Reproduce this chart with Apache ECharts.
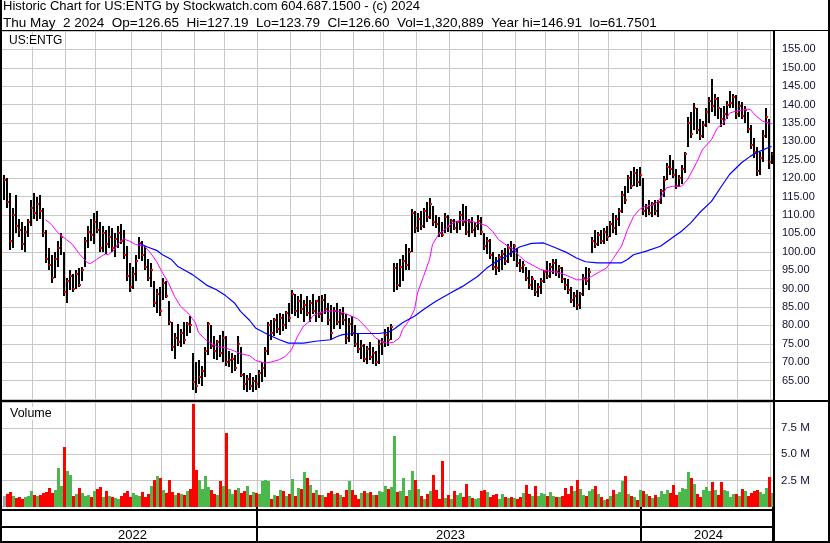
<!DOCTYPE html>
<html>
<head>
<meta charset="utf-8">
<title>US:ENTG historic chart</title>
<script src="https://cdn.jsdelivr.net/npm/echarts@6.0.0/dist/echarts.min.js"></script>
<style>
  html, body { margin: 0; padding: 0; background: #fff; }
  #chart { width: 830px; height: 543px; }
</style>
</head>
<body>
<div id="chart"></div>
<script>
// each bar slot is roughly two trading days; month -> first slot of that month
const monthStarts = [
  ['2022-05', 0], ['2022-06', 10], ['2022-07', 21], ['2022-08', 31], ['2022-09', 43],
  ['2022-10', 53], ['2022-11', 64], ['2022-12', 74], ['2023-01', 85], ['2023-02', 96],
  ['2023-03', 106], ['2023-04', 117], ['2023-05', 127], ['2023-06', 138], ['2023-07', 149],
  ['2023-08', 160], ['2023-09', 171], ['2023-10', 181], ['2023-11', 192], ['2023-12', 202],
  ['2024-01', 213], ['2024-02', 224], ['2024-03', 235], ['2024-04', 245], ['2024-05', 256]
]

const highs = [
  121, 120, 116, 112, 115.5, 109, 108, 107, 109, 114, 116, 115, 115.5, 112, 106, 101, 99, 100, 103, 105,
  100, 93, 95, 94, 95, 95.5, 96, 104, 107, 109, 110.5, 111, 108, 107, 106, 107, 106.5, 105, 107, 107.5,
  106, 101.5, 97, 96, 99, 104, 103, 101.5, 98, 97, 92, 90, 90.5, 93, 92, 86.5, 81, 78, 80.5, 79,
  81, 81, 82.5, 72.5, 70, 70.5, 69, 74, 81, 80, 77, 76, 77.5, 78.5, 77, 73, 72.5, 72, 77, 74,
  67, 66.5, 67, 66, 66.5, 68, 70, 74, 81, 81.5, 82, 83, 83.5, 83, 84, 86, 89.7, 88.5, 88, 88.5,
  87, 88, 87, 88.5, 87, 88, 88.3, 88.5, 86, 85.5, 85, 86, 84.5, 85, 83, 82, 82.5, 80, 78, 76,
  75, 74.5, 75.5, 74, 73, 76, 76.5, 79, 79.7, 80.5, 97, 97, 98, 99, 102, 101, 111.5, 111, 110.5, 111,
  112, 113.5, 114.7, 112.5, 110, 109.5, 108, 110.6, 110, 109, 109, 108.5, 111, 113, 112.5, 109, 109.5, 108, 110, 109.5,
  105, 104, 103.5, 100, 98.5, 99.5, 100.6, 101, 102, 102.8, 102, 101, 98, 97.5, 96, 95, 93.5, 92.4, 91.5, 93,
  95, 97.5, 97, 98, 98, 96.5, 96, 93, 92.5, 90.5, 89, 89.5, 89, 94, 96, 95.5, 104, 106, 105.5, 106,
  106.5, 107, 108.5, 110.6, 110, 112, 116.5, 118, 121, 122, 123, 122.5, 123, 120, 113, 114, 113.5, 114, 114, 117,
  120.5, 124, 126.4, 125, 122.4, 121, 123.5, 127, 136.7, 138, 140.5, 139, 136, 135.5, 139, 142, 146.91, 143, 142, 139,
  139.5, 141, 143.6, 143, 142.5, 141, 140.6, 139.5, 138, 134.5, 131, 128.6, 127, 133, 139.2, 136, 127.19
]
const lows = [
  114, 112, 100.5, 101, 105, 104, 100.5, 100, 104, 107, 109, 108.5, 109, 104, 97, 95, 91.5, 93, 96, 99,
  88, 86, 89.5, 89, 90, 90.5, 92, 96, 101, 103, 102, 105, 100, 100, 99.5, 101, 100, 98.5, 101, 102,
  98, 92, 89, 90, 92, 98, 97.5, 95, 92, 90.5, 85, 83.5, 82.5, 87, 87.5, 80, 73, 70.8, 74.5, 74,
  75, 77, 78, 62.5, 61.75, 64, 63.5, 66, 72, 73.5, 71, 70.5, 71.5, 70, 69, 68.8, 67, 67.5, 69.5, 66,
  62.5, 62, 62.5, 62, 62.5, 63, 64.5, 66, 72, 76, 77, 78, 77.5, 78.5, 79, 81, 83, 82.5, 82, 83,
  81, 82.5, 80.8, 83, 81, 82, 81, 83, 80, 76, 79, 80, 79, 80, 75, 75.5, 77, 74, 72.5, 71,
  70, 69.5, 70.5, 69.5, 68.9, 69.5, 72, 74, 74.5, 76, 89, 89.5, 90.5, 92, 95, 95, 100, 105, 105.5, 106,
  106.5, 108, 109, 107, 106.5, 104, 104, 105, 105.5, 105, 106, 105, 106, 107, 104.5, 104, 105, 104, 106, 104.5,
  100.5, 99.5, 98, 95, 93.8, 94.5, 95, 96.5, 97, 98.5, 97.5, 96, 94.5, 94.3, 92, 90, 89.7, 88, 87.8, 88.5,
  91.5, 92.5, 93, 94, 93.5, 93, 91.5, 89.5, 88.5, 86, 85, 84.3, 84.5, 88, 91, 89.7, 99.7, 101, 101.5, 102,
  102, 103, 104, 105, 104.5, 107, 110.5, 113, 116, 117, 118, 117.5, 118, 110, 109.5, 110, 109.5, 110, 109.5, 113,
  115, 119.5, 121, 120, 117, 117.5, 118.5, 121.5, 128.5, 131, 133, 132, 130.5, 131, 134, 135, 138, 137, 136, 134,
  134.5, 136, 139, 139, 136, 136.5, 136, 135, 132.4, 128, 125.5, 120.7, 121, 124.5, 131, 122.4, 123.79
]
const closes = [
  119.5, 113.5, 103, 110, 107, 106, 102, 105.5, 108, 112, 110.5, 113, 111, 105, 98, 96.5, 93, 98, 101, 104,
  89, 92, 93.5, 90, 94, 91, 95, 103, 105.5, 104.5, 108, 106, 101, 105, 102, 104, 101, 103.5, 105, 103,
  99, 93.5, 90.5, 94, 97.5, 102.5, 99, 96, 93, 95, 86, 88.5, 84, 91.5, 88, 81, 74, 76.5, 75.5, 78,
  76, 80.5, 80, 64.5, 63.5, 66, 67.5, 73, 80.5, 74.5, 73, 75.5, 72.5, 76.5, 70, 70.5, 71, 68.5, 75, 66.5,
  64, 65.5, 63.5, 65, 64, 67, 68.5, 73, 80, 78, 81.5, 79, 82, 80, 83.5, 82, 88.5, 84, 86.5, 84.5,
  85.5, 83.5, 86, 84, 86.5, 83, 87, 84.5, 81.5, 78, 84, 81, 83, 81.5, 76.5, 80.5, 78, 75, 73.5, 74.5,
  71, 73.5, 71.5, 72.5, 70, 75, 75.5, 77.5, 76, 79.5, 95.5, 91, 96, 97.5, 96.5, 100, 110.5, 106.5, 109, 107,
  111, 109.5, 113, 108, 107.5, 105, 104.5, 109.5, 107, 108.5, 106.5, 108, 110, 108, 105.5, 108, 106, 107, 108.5, 105.5,
  101.5, 103, 99, 96, 95.5, 98.5, 99.5, 97.5, 101, 100, 101.5, 97, 95.5, 96.5, 93, 91, 92.5, 89, 90.5, 92,
  94.5, 93.5, 96, 97, 94.5, 95.5, 92.5, 91, 89.5, 87, 88, 85.5, 88.5, 93, 92, 94.5, 103, 102, 104.5, 103,
  105.5, 104, 107.5, 106.5, 109, 111, 115.5, 114, 120, 118, 121.5, 119, 121, 111, 112, 110.5, 113, 111, 113.5, 116.5,
  119.5, 123, 122.5, 121, 118, 120, 122.5, 126.5, 135, 132, 139, 133, 131.5, 134.5, 138, 141, 139.5, 141.5, 139, 136,
  137.5, 140, 140.5, 142, 137.5, 139.5, 137, 138.5, 133.5, 129, 127, 122, 125.5, 131.5, 136.5, 124.5, 126.6
]
// volume in millions of shares
const volumes = [
  1.0, 1.2, 1.4, 1.0, 0.8, 0.9, 0.7, 0.9, 1.0, 1.5, 1.1, 1.0, 1.1, 1.3, 1.4, 1.8, 1.3, 1.6, 3.7, 2.0,
  5.7, 3.4, 3.0, 1.0, 1.2, 1.8, 1.3, 1.0, 1.1, 0.9, 1.5, 1.7, 1.9, 0.9, 1.5, 1.0, 0.9, 0.8, 0.7, 1.0,
  1.3, 1.5, 0.9, 1.3, 1.1, 1.0, 1.4, 0.9, 1.2, 2.0, 2.5, 2.9, 2.7, 1.6, 1.3, 2.5, 1.4, 1.1, 1.3, 1.2,
  1.1, 1.5, 1.7, 9.8, 3.5, 2.5, 1.7, 2.9, 1.9, 1.6, 1.2, 1.1, 2.4, 2.0, 7.0, 1.7, 1.2, 1.6, 1.8, 1.3,
  1.5, 2.0, 1.1, 1.4, 1.3, 1.2, 2.4, 2.5, 2.4, 0.7, 1.1, 1.0, 1.6, 1.5, 1.0, 1.2, 2.6, 1.0, 1.8, 1.7,
  3.3, 2.7, 2.1, 1.3, 1.6, 1.1, 1.1, 0.9, 1.3, 1.5, 1.2, 1.3, 1.1, 0.9, 1.6, 2.4, 1.6, 1.1, 0.7, 1.3,
  1.5, 1.3, 1.4, 1.1, 1.1, 1.5, 1.4, 2.0, 1.7, 1.9, 6.75, 1.4, 1.5, 2.7, 1.0, 1.6, 3.4, 2.5, 1.7, 1.0,
  0.7, 1.2, 1.5, 3.0, 1.6, 0.7, 4.4, 0.8, 1.1, 0.7, 1.5, 1.1, 1.3, 0.9, 2.2, 1.0, 0.8, 0.7, 0.8, 1.5,
  1.6, 1.4, 0.9, 1.1, 1.2, 0.7, 1.2, 0.9, 0.8, 0.9, 0.8, 0.7, 0.9, 1.3, 2.1, 1.2, 1.0, 2.0, 1.0, 1.3,
  1.2, 1.0, 1.4, 1.0, 0.9, 0.9, 1.0, 1.75, 1.2, 2.0, 1.5, 2.5, 1.7, 1.1, 1.0, 1.5, 1.7, 2.0, 1.2, 0.9,
  0.6, 0.7, 1.0, 1.6, 1.2, 1.4, 2.4, 2.9, 1.2, 1.0, 0.9, 0.6, 1.6, 1.5, 1.2, 1.0, 0.8, 1.1, 0.9, 1.5,
  1.2, 1.6, 1.3, 2.1, 1.1, 1.4, 1.8, 1.7, 3.3, 2.7, 2.2, 1.2, 0.9, 1.6, 1.9, 1.5, 2.3, 1.6, 1.1, 2.3,
  1.6, 1.5, 0.9, 1.2, 1.2, 1.0, 1.7, 1.5, 1.0, 1.3, 1.5, 1.6, 1.4, 1.2, 1.8, 2.85, 1.32
]
// moving averages: [slot, price]
const maShort = [
  [14, 108.75], [16, 107.4], [18, 105.3], [21, 103.3], [23, 102.0], [25, 99.7], [27, 97.9], [28, 97.0],
  [29, 96.8], [31, 97.9], [33, 99.0], [34, 99.4], [35, 99.2], [37, 100.6], [38, 102.0], [40, 103.5],
  [42, 102.9], [44, 102.0], [47, 101.5], [49, 99.7], [51, 97.4], [53, 94.3], [55, 91.5], [57, 87.9],
  [59, 85.2], [62, 82.9], [64, 80.7], [65, 78.0], [68, 75.7], [71, 74.3], [74, 73.9], [77, 73.0],
  [79, 72.3], [82, 71.8], [84, 70.5], [87, 69.8], [89, 70.0], [92, 70.7], [94, 71.6], [96, 73.4],
  [98, 77.0], [100, 79.8], [102, 81.1], [103, 82.5], [105, 83.4], [108, 83.8], [110, 84.0], [112, 83.8],
  [114, 83.2], [116, 82.5], [118, 81.8], [120, 80.2], [122, 78.4], [124, 76.6], [126, 75.7], [128, 75.2],
  [130, 75.4], [132, 76.6], [133, 78.9], [135, 81.1], [137, 84.3], [138, 88.8], [140, 93.3], [142, 97.9],
  [143, 102.0], [145, 104.7], [147, 106.0], [149, 107.4], [151, 108.3], [154, 108.6], [156, 108.3], [159, 107.6],
  [161, 107.1], [163, 105.6], [165, 103.3], [168, 101.6], [170, 100.7], [172, 98.8], [174, 97.4], [177, 96.1],
  [179, 95.2], [182, 94.7], [185, 94.4], [188, 93.5], [191, 92.4], [194, 92.4], [196, 93.3], [199, 94.7],
  [201, 95.6], [203, 97.9], [206, 101.5], [208, 106.0], [210, 109.6], [212, 111.5], [214, 112.4], [217, 112.8],
  [219, 114.6], [221, 117.4], [223, 117.8], [226, 117.8], [228, 119.6], [231, 124.2], [233, 127.8], [236, 130.5],
  [238, 133.7], [240, 135.0], [242, 137.7], [244, 138.2], [248, 138.8], [249, 138.6], [251, 136.8], [253, 135.5],
  [256, 134.8]
]
const maLong = [
  [45, 102.4], [48, 101.3], [51, 100.4], [53, 99.2], [56, 97.9], [58, 96.1], [61, 94.7], [63, 93.8],
  [66, 92.0], [68, 90.8], [71, 89.7], [74, 88.1], [77, 86.1], [79, 83.8], [82, 81.4], [84, 79.3],
  [87, 78.0], [89, 77.2], [92, 76.1], [95, 75.2], [100, 75.2], [104, 75.7], [109, 76.1], [111, 76.9],
  [113, 77.5], [117, 77.8], [121, 77.8], [125, 77.8], [128, 78.1], [130, 78.9], [133, 80.7], [137, 82.5],
  [140, 84.3], [144, 86.5], [149, 88.8], [153, 90.6], [158, 93.3], [161, 95.5], [164, 97.2], [168, 99.0],
  [170, 100.3], [172, 101.3], [176, 102.3], [180, 102.4], [184, 101.1], [188, 99.7], [191, 98.3], [194, 97.3],
  [198, 97.0], [202, 97.0], [206, 97.0], [208, 97.9], [210, 99.2], [214, 100.1], [219, 101.5], [222, 103.3],
  [226, 105.6], [229, 107.8], [232, 110.6], [236, 113.7], [239, 117.4], [242, 121.0], [246, 124.2], [249, 126.0],
  [252, 127.3], [256, 128.7]
]

const headerLine1 = 'Historic Chart for US:ENTG by Stockwatch.com 604.687.1500 - (c) 2024'
const headerLine2 = 'Thu May  2 2024  Op=126.65  Hi=127.19  Lo=123.79  Cl=126.60  Vol=1,320,889  Year hi=146.91  lo=61.7501'

const FONT = 'Liberation Sans, Arial, sans-serif'
const GRID_COLOR = '#c8c8c8'

const n = closes.length
const periods = []
monthStarts.forEach(([m, s], k) => {
  const e = k + 1 < monthStarts.length ? monthStarts[k + 1][1] : n
  for (let j = s; j < e; j++) periods.push(m + '#' + (j - s + 1))
})
const monthSlots = new Set(monthStarts.map(m => m[1]).filter(s => s > 0))
const yearSlots = monthStarts.filter(m => m[0].endsWith('-01')).map(m => m[1])
const yearBounds = [0].concat(yearSlots, [n])
const yearLabels = {}
for (let k = 0; k < yearBounds.length - 1; k++) {
  const mid = Math.round((yearBounds[k] + yearBounds[k + 1]) / 2)
  yearLabels[mid] = periods[yearBounds[k]].slice(0, 4)
}

const barData = closes.map((c, i) => [i, highs[i], lows[i], c])
const volData = volumes.map((v, i) => {
  let dir = 0
  if (i > 0) dir = closes[i] > closes[i - 1] ? 1 : (closes[i] < closes[i - 1] ? -1 : 0)
  return [i, v, dir]
})

function renderPriceBar(params, api) {
  const x = Math.round(api.coord([api.value(0), 100])[0])
  const yHi = Math.round(api.coord([api.value(0), api.value(1)])[1])
  const yLo = Math.round(api.coord([api.value(0), api.value(2)])[1])
  const yCl = Math.round(api.coord([api.value(0), api.value(3)])[1])
  return {
    type: 'group',
    children: [
      { type: 'rect', shape: { x: x - 1, y: yHi, width: 2, height: Math.max(yLo - yHi, 1) }, style: { fill: '#000' } },
      { type: 'rect', shape: { x: x, y: yCl - 1, width: 2, height: 2 }, style: { fill: '#ff0000' } }
    ]
  }
}

function renderVolume(params, api) {
  const top = api.coord([api.value(0), api.value(1)])
  const base = api.coord([api.value(0), 0])
  const x = Math.round(top[0])
  const dir = api.value(2)
  const color = dir > 0 ? '#4cb84c' : (dir < 0 ? '#ff0000' : '#a8a8a8')
  return {
    type: 'rect',
    shape: { x: x - 1, y: Math.round(top[1]), width: 3, height: Math.round(base[1]) - Math.round(top[1]) },
    style: { fill: color }
  }
}

const chart = echarts.init(document.getElementById('chart'))

const option = {
  animation: false,
  backgroundColor: '#fff',
  textStyle: { fontFamily: FONT },
  grid: [
    { left: 2, top: 31, width: 771, height: 368 },
    { left: 2, top: 402, width: 771, height: 104.5 }
  ],
  xAxis: [
    {
      gridIndex: 0,
      type: 'category',
      data: periods,
      boundaryGap: true,
      axisLine: { show: false },
      axisTick: { show: false },
      axisLabel: { show: false },
      splitLine: { show: true, interval: i => monthSlots.has(i), lineStyle: { color: GRID_COLOR, width: 1 } }
    },
    {
      gridIndex: 1,
      type: 'category',
      data: periods,
      boundaryGap: true,
      axisLine: { show: false },
      axisTick: { show: true, interval: i => yearSlots.includes(i), length: 35, lineStyle: { color: '#000', width: 2 } },
      axisLabel: {
        show: true,
        interval: i => yearLabels[i] !== undefined,
        formatter: (v, i) => yearLabels[i] || '',
        margin: 22,
        fontSize: 13,
        fontFamily: FONT,
        color: '#000'
      },
      splitLine: { show: true, interval: i => monthSlots.has(i), lineStyle: { color: GRID_COLOR, width: 1 } }
    }
  ],
  yAxis: [
    {
      gridIndex: 0,
      type: 'value',
      position: 'right',
      min: 60,
      max: 160,
      interval: 5,
      axisLine: { show: false },
      axisTick: { show: false },
      axisLabel: {
        margin: 9,
        fontSize: 11,
        fontFamily: FONT,
        color: '#101030',
        formatter: v => (v <= 60 || v >= 160) ? '' : v.toFixed(2)
      },
      splitLine: { show: true, lineStyle: { color: GRID_COLOR, width: 1 } }
    },
    {
      gridIndex: 1,
      type: 'value',
      position: 'right',
      min: 0,
      max: 10,
      interval: 2.5,
      axisLine: { show: false },
      axisTick: { show: false },
      axisLabel: {
        margin: 8,
        fontSize: 11.5,
        fontFamily: FONT,
        color: '#101030',
        formatter: v => (v <= 0 || v >= 10) ? '' : v.toFixed(1) + ' M'
      },
      splitLine: { show: true, lineStyle: { color: GRID_COLOR, width: 1 } }
    }
  ],
  series: [
    {
      name: 'US:ENTG',
      type: 'custom',
      xAxisIndex: 0,
      yAxisIndex: 0,
      renderItem: renderPriceBar,
      encode: { x: 0, y: [1, 2, 3] },
      data: barData,
      z: 2
    },
    {
      name: 'MA short',
      type: 'line',
      xAxisIndex: 0,
      yAxisIndex: 0,
      data: maShort,
      showSymbol: false,
      lineStyle: { color: '#ff00ff', width: 1 },
      itemStyle: { color: '#ff00ff' },
      z: 3
    },
    {
      name: 'MA long',
      type: 'line',
      xAxisIndex: 0,
      yAxisIndex: 0,
      data: maLong,
      showSymbol: false,
      lineStyle: { color: '#0000ff', width: 1.2 },
      itemStyle: { color: '#0000ff' },
      z: 3
    },
    {
      name: 'Volume',
      type: 'custom',
      xAxisIndex: 1,
      yAxisIndex: 1,
      renderItem: renderVolume,
      encode: { x: 0, y: 1 },
      data: volData,
      z: 2
    }
  ],
  graphic: [
    { type: 'text', left: 3, top: 0, style: { text: headerLine1, fontSize: 13, fontFamily: FONT, fill: '#000' } },
    { type: 'text', left: 3, top: 16, style: { text: headerLine2, fontSize: 13.5, fontFamily: FONT, fill: '#000' } },
    { type: 'text', left: 8, top: 35, z: 10, style: { text: 'US:ENTG', fontSize: 12, fontFamily: FONT, fill: '#000', backgroundColor: '#fff', padding: [0, 1] } },
    { type: 'text', left: 9, top: 407, z: 10, style: { text: 'Volume', fontSize: 12.5, fontFamily: FONT, fill: '#000', backgroundColor: '#fff', padding: [0, 1] } },
    // frame lines
    { type: 'rect', z: 20, shape: { x: 0, y: 0, width: 2, height: 543 }, style: { fill: '#000' } },
    { type: 'rect', z: 20, shape: { x: 828, y: 0, width: 2, height: 543 }, style: { fill: '#000' } },
    { type: 'rect', z: 20, shape: { x: 0, y: 30, width: 830, height: 1 }, style: { fill: '#000' } },
    { type: 'rect', z: 20, shape: { x: 773, y: 30, width: 2, height: 513 }, style: { fill: '#000' } },
    { type: 'rect', z: 20, shape: { x: 0, y: 400, width: 830, height: 2 }, style: { fill: '#000' } },
    { type: 'rect', z: 20, shape: { x: 0, y: 509, width: 775, height: 2 }, style: { fill: '#000' } },
    { type: 'rect', z: 20, shape: { x: 0, y: 526, width: 775, height: 2 }, style: { fill: '#000' } },
    { type: 'rect', z: 20, shape: { x: 0, y: 541, width: 830, height: 2 }, style: { fill: '#000' } }
  ]
}

chart.setOption(option)
</script>
</body>
</html>
